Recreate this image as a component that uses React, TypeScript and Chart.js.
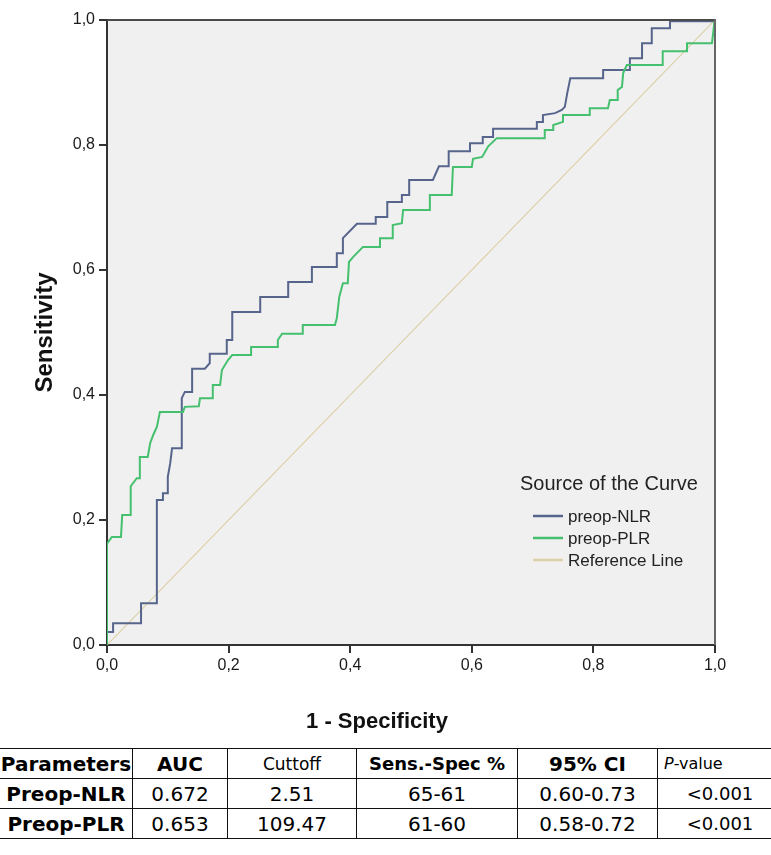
import React, { useEffect, useRef } from 'react';
import { Chart, registerables } from 'chart.js';

Chart.register(...registerables);

// ROC step curve vertices (1 - specificity, sensitivity)
const nlrFpr = [0, 0, 0.01, 0.01, 0.056, 0.056, 0.082, 0.082, 0.092, 0.092, 0.1, 0.1, 0.104, 0.107, 0.123, 0.123, 0.128, 0.14, 0.14, 0.161, 0.169, 0.169, 0.197, 0.197, 0.206, 0.206, 0.252, 0.252, 0.298, 0.298, 0.337, 0.337, 0.378, 0.378, 0.387, 0.388, 0.411, 0.442, 0.442, 0.461, 0.461, 0.485, 0.485, 0.497, 0.497, 0.536, 0.546, 0.562, 0.562, 0.597, 0.597, 0.618, 0.618, 0.635, 0.635, 0.707, 0.707, 0.717, 0.717, 0.737, 0.748, 0.753, 0.757, 0.762, 0.816, 0.816, 0.86, 0.86, 0.88, 0.88, 0.896, 0.896, 0.926, 0.926, 1];
const nlrTpr = [0, 0.021, 0.021, 0.035, 0.035, 0.067, 0.067, 0.232, 0.232, 0.243, 0.243, 0.269, 0.291, 0.315, 0.315, 0.395, 0.405, 0.405, 0.442, 0.442, 0.451, 0.466, 0.466, 0.488, 0.488, 0.533, 0.533, 0.557, 0.557, 0.581, 0.581, 0.605, 0.605, 0.627, 0.627, 0.651, 0.674, 0.674, 0.685, 0.685, 0.709, 0.709, 0.72, 0.72, 0.744, 0.744, 0.766, 0.766, 0.79, 0.79, 0.803, 0.803, 0.813, 0.813, 0.826, 0.826, 0.837, 0.837, 0.848, 0.851, 0.856, 0.861, 0.883, 0.907, 0.907, 0.92, 0.92, 0.939, 0.939, 0.963, 0.963, 0.987, 0.987, 0.998, 0.998];

const plrFpr = [0, 0, 0.008, 0.023, 0.025, 0.039, 0.039, 0.049, 0.054, 0.054, 0.067, 0.071, 0.076, 0.082, 0.087, 0.125, 0.128, 0.151, 0.153, 0.174, 0.174, 0.186, 0.189, 0.199, 0.206, 0.237, 0.237, 0.28, 0.281, 0.288, 0.322, 0.322, 0.375, 0.378, 0.382, 0.388, 0.396, 0.398, 0.405, 0.411, 0.421, 0.449, 0.449, 0.47, 0.47, 0.485, 0.487, 0.531, 0.531, 0.567, 0.569, 0.6, 0.602, 0.617, 0.627, 0.641, 0.719, 0.72, 0.734, 0.734, 0.75, 0.75, 0.794, 0.794, 0.824, 0.827, 0.839, 0.84, 0.847, 0.849, 0.855, 0.914, 0.914, 0.954, 0.954, 0.995, 0.997, 0.999];
const plrTpr = [0, 0.162, 0.173, 0.173, 0.208, 0.208, 0.254, 0.267, 0.267, 0.301, 0.301, 0.323, 0.336, 0.349, 0.373, 0.373, 0.381, 0.382, 0.395, 0.395, 0.416, 0.416, 0.44, 0.456, 0.464, 0.464, 0.477, 0.477, 0.488, 0.498, 0.498, 0.512, 0.512, 0.523, 0.557, 0.579, 0.579, 0.613, 0.621, 0.627, 0.637, 0.637, 0.651, 0.651, 0.672, 0.675, 0.696, 0.696, 0.72, 0.72, 0.765, 0.765, 0.778, 0.781, 0.798, 0.811, 0.811, 0.824, 0.824, 0.832, 0.837, 0.848, 0.848, 0.859, 0.859, 0.872, 0.872, 0.888, 0.893, 0.915, 0.928, 0.928, 0.95, 0.95, 0.963, 0.963, 0.979, 0.998];

const refFpr = [0, 1];
const refTpr = [0, 1];

const seriesLabels = ['preop-NLR', 'preop-PLR', 'Reference Line'];
const seriesColors = ['#57658c', '#45c06e', '#dcd0a8'];
const legendTitle = 'Source of the Curve';
const xTitle = '1 - Specificity';
const yTitle = 'Sensitivity';

const tableHeader = ['Parameters', 'AUC', 'Cuttoff', 'Sens.-Spec %', '95% CI', 'P-value'];
const tableRows = [
  ['Preop-NLR', '0.672', '2.51', '65-61', '0.60-0.73', '<0.001'],
  ['Preop-PLR', '0.653', '109.47', '61-60', '0.58-0.72', '<0.001'],
];

const FONT = '"Liberation Sans", Arial, sans-serif';
const TFONT = '"DejaVu Sans", sans-serif';

const toPoints = (xs: number[], ys: number[]) => xs.map((x, i) => ({ x, y: ys[i] }));
const fmt = (v: number) => Number(v).toFixed(1).replace('.', ',');

const framePlugin = {
  id: 'plotFrame',
  beforeDraw(chart: any) {
    const { ctx, chartArea: a } = chart;
    ctx.save();
    ctx.fillStyle = '#f0f0f0';
    ctx.fillRect(a.left, a.top, a.right - a.left, a.bottom - a.top);
    ctx.restore();
  },
  afterDraw(chart: any) {
    const { ctx, chartArea: a } = chart;
    ctx.save();
    ctx.fillStyle = '#4a4a4a';
    ctx.fillRect(a.left, a.top - 1, a.right - a.left + 1, 2);
    ctx.fillStyle = '#666666';
    ctx.fillRect(a.right - 1, a.top - 1, 2, a.bottom - a.top + 1);
    // x-axis title, centred under the figure as in the source
    ctx.fillStyle = '#111';
    ctx.font = `bold 22px ${FONT}`;
    ctx.textAlign = 'center';
    ctx.textBaseline = 'middle';
    ctx.fillText(xTitle, 377, 722);
    ctx.restore();
  },
};

const legendPlugin = {
  id: 'spssLegend',
  afterDatasetsDraw(chart: any) {
    const { ctx } = chart;
    ctx.save();
    ctx.fillStyle = '#222';
    ctx.textBaseline = 'middle';
    ctx.textAlign = 'left';
    ctx.font = `20px ${FONT}`;
    ctx.fillText(legendTitle, 520, 484);
    chart.data.datasets.forEach((ds: any, i: number) => {
      const y = 516 + i * 22;
      ctx.strokeStyle = ds.borderColor;
      ctx.lineWidth = 2.5;
      ctx.beginPath();
      ctx.moveTo(533, y);
      ctx.lineTo(563, y);
      ctx.stroke();
      ctx.font = `17px ${FONT}`;
      ctx.fillStyle = '#222';
      ctx.fillText(ds.label, 568, y + 1);
    });
    ctx.restore();
  },
};

function RocChart() {
  const ref = useRef<HTMLCanvasElement | null>(null);
  useEffect(() => {
    if (!ref.current) return;
    const axisCommon = {
      type: 'linear' as const,
      min: 0,
      max: 1,
      grid: { drawOnChartArea: false, drawTicks: true, tickLength: 8, color: '#333', lineWidth: 2 },
      border: { display: true, color: '#333', width: 2 },
    };
    const chart = new Chart(ref.current, {
      type: 'line',
      data: {
        datasets: [
          { label: seriesLabels[0], data: toPoints(nlrFpr, nlrTpr), borderColor: seriesColors[0], borderWidth: 2, pointRadius: 0, tension: 0, order: 1 },
          { label: seriesLabels[1], data: toPoints(plrFpr, plrTpr), borderColor: seriesColors[1], borderWidth: 2, pointRadius: 0, tension: 0, order: 0 },
          { label: seriesLabels[2], data: toPoints(refFpr, refTpr), borderColor: seriesColors[2], borderWidth: 1.2, pointRadius: 0, tension: 0, order: 2 },
        ],
      },
      options: {
        animation: false,
        responsive: false,
        devicePixelRatio: 1,
        layout: { padding: { left: 0, right: 56, top: 20, bottom: 0 } },
        plugins: { legend: { display: false }, tooltip: { enabled: false } },
        scales: {
          x: {
            ...axisCommon,
            position: 'bottom',
            ticks: { stepSize: 0.2, padding: 3, color: '#1a1a1a', font: { size: 16, family: FONT }, callback: (v: any) => fmt(v), maxRotation: 0 },
            title: { display: false },
            afterFit: (s: any) => { s.height = 95; },
          },
          y: {
            ...axisCommon,
            position: 'left',
            ticks: { stepSize: 0.2, padding: 4, color: '#1a1a1a', font: { size: 16, family: FONT }, callback: (v: any) => fmt(v) },
            title: { display: true, text: yTitle, color: '#111', font: { size: 24, weight: 'bold', family: FONT }, padding: { top: 31, bottom: 0 } },
            afterFit: (s: any) => { s.width = 107; },
          },
        },
      } as any,
      plugins: [framePlugin, legendPlugin],
    });
    return () => chart.destroy();
  }, []);
  return <canvas ref={ref} width={771} height={740} style={{ position: 'absolute', left: 0, top: 0, width: 771, height: 740 }} />;
}

const colWidths = [132, 94, 128, 160, 139, 118];

function StatsTable() {
  const cell = (i: number, extra: React.CSSProperties = {}): React.CSSProperties => ({
    width: colWidths[i],
    height: 29,
    padding: 0,
    textAlign: 'center',
    verticalAlign: 'middle',
    borderTop: '1px solid #111',
    borderBottom: '1px solid #111',
    borderLeft: i === 0 ? 'none' : '1px solid #111',
    borderRight: i === colWidths.length - 1 ? '1px solid #111' : 'none',
    whiteSpace: 'nowrap',
    color: '#000',
    ...extra,
  });
  const headerStyle = (i: number): React.CSSProperties => {
    if (i === 2) return cell(i, { fontSize: 17, fontWeight: 'normal' });
    if (i === 5) return cell(i, { fontSize: 16, fontWeight: 'normal', textAlign: 'left', paddingLeft: 6 });
    return cell(i, { fontSize: i === 3 ? 18 : 20, fontWeight: 'bold' });
  };
  return (
    <table style={{ position: 'absolute', left: 0, top: 748, width: 771, borderCollapse: 'collapse', tableLayout: 'fixed', fontFamily: TFONT }}>
      <tbody>
        <tr>
          {tableHeader.map((h, i) => (
            <td key={i} style={headerStyle(i)}>
              {i === 5 ? (
                <span>
                  <i>{h.slice(0, 1)}</i>
                  {h.slice(1)}
                </span>
              ) : (
                h
              )}
            </td>
          ))}
        </tr>
        {tableRows.map((row, r) => (
          <tr key={r}>
            {row.map((v, i) => (
              <td key={i} style={cell(i, { fontSize: i === 0 ? 20 : i === 5 ? 18 : 20, fontWeight: i === 0 ? 'bold' : 'normal' })}>
                {v}
              </td>
            ))}
          </tr>
        ))}
      </tbody>
    </table>
  );
}

export default function App() {
  return (
    <div style={{ position: 'absolute', left: 0, top: 0, width: 771, height: 855, background: '#fff' }}>
      <RocChart />
      <StatsTable />
    </div>
  );
}
